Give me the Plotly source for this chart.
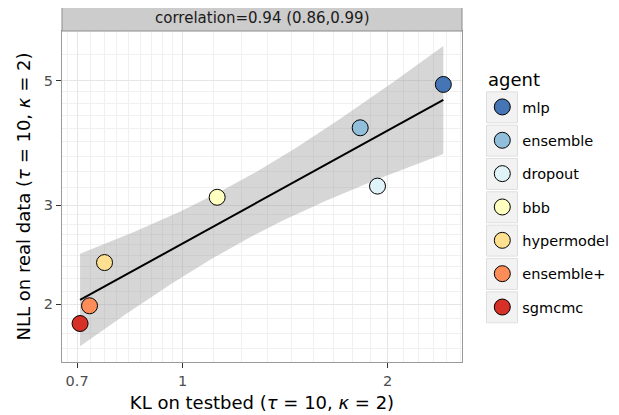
import numpy as np
import plotly.graph_objects as go

# ---------------- data ----------------
agents = ["mlp", "ensemble", "dropout", "bbb", "hypermodel", "ensemble+", "sgmcmc"]
kl_testbed = [2.415, 1.823, 1.933, 1.124, 0.768, 0.730, 0.707]
nll_real = [4.92, 4.12, 3.245, 3.10, 2.373, 1.988, 1.849]
agent_colors = ["#4575b4", "#91bfdb", "#e0f3f8", "#ffffbf", "#fee090", "#fc8d59", "#d73027"]
x_ticks = [0.7, 1, 2]
y_ticks = [2, 3, 5]
x_breaks_ext = [0.5, 0.7, 1, 2, 3]
y_breaks_ext = [1, 2, 3, 5, 10]
strip_label = "correlation=0.94 (0.86,0.99)"
legend_title = "agent"
x_title = "KL on testbed (<i>τ</i> = 10, <i>κ</i> = 2)"
y_title = "NLL on real data (<i>τ</i> = 10, <i>κ</i> = 2)"

FONT = "DejaVu Sans"
OFF = 8  # page body margin in the browser
W, H = 619 - OFF, 415 - OFF
ML, MR, MT, MB = 54, 157, 23, 53
PW, PH = W - ML - MR, H - MT - MB


def px2x(p):  # window pixel -> paper x
    return (p - OFF - ML) / PW


def py2y(p):  # window pixel -> paper y
    return (H - MB - (p - OFF)) / PH


# ---------------- linear fit in log-log space with 95% CI ----------------
lx = np.log10(np.array(kl_testbed))
ly = np.log10(np.array(nll_real))
n = len(lx)
slope, intercept = np.polyfit(lx, ly, 1)
resid = ly - (intercept + slope * lx)
s = np.sqrt(np.sum(resid ** 2) / (n - 2))
sxx = np.sum((lx - lx.mean()) ** 2)
t_crit = 2.5706  # t(0.975, df=5)
grid = np.linspace(lx.min(), lx.max(), 100)
fit = intercept + slope * grid
se = s * np.sqrt(1.0 / n + (grid - lx.mean()) ** 2 / sxx)
upper = fit + t_crit * se
lower = fit - t_crit * se


def minor_breaks(ext):
    out = []
    for a, b in zip(ext[:-1], ext[1:]):
        out.extend(np.linspace(a, b, 10)[1:-1].tolist())
    return out


fig = go.Figure()

band_x = np.concatenate([10 ** grid, (10 ** grid)[::-1]])
band_y = np.concatenate([10 ** upper, (10 ** lower)[::-1]])
fig.add_trace(go.Scatter(x=band_x, y=band_y, mode="lines", fill="toself",
                         fillcolor="rgba(153,153,153,0.4)", line=dict(width=0),
                         showlegend=False, hoverinfo="skip"))
fig.add_trace(go.Scatter(x=10 ** grid, y=10 ** fit, mode="lines",
                         line=dict(color="black", width=2), showlegend=False,
                         hoverinfo="skip"))

for a, xv, yv, c in zip(agents, kl_testbed, nll_real, agent_colors):
    fig.add_trace(go.Scatter(x=[xv], y=[yv], mode="markers", name=a, legendgroup=a,
                             marker=dict(size=16, color=c, line=dict(color="black", width=1))))

axis_common = dict(
    showline=True, mirror=True, linecolor="#9a9a9a", linewidth=1.2,
    ticks="outside", ticklen=5, tickcolor="#333333", tickwidth=1,
    showgrid=True, gridcolor="#e6e6e6", gridwidth=1.1, zeroline=False,
    tickfont=dict(family=FONT, size=14.5, color="#4d4d4d"),
)

fig.update_xaxes(type="log", range=[-0.1771, 0.4103], tickmode="array",
                 tickvals=x_ticks, ticktext=[str(v) for v in x_ticks],
                 minor=dict(tickmode="array", tickvals=minor_breaks(x_breaks_ext),
                            showgrid=True, gridcolor="#f0f0f0", gridwidth=0.8, ticks=""),
                 title=dict(text=x_title, font=dict(family=FONT, size=18, color="black"), standoff=8),
                 **axis_common)
fig.update_yaxes(type="log", range=[0.1985, 0.787], tickmode="array",
                 tickvals=y_ticks, ticktext=[str(v) for v in y_ticks],
                 minor=dict(tickmode="array", tickvals=minor_breaks(y_breaks_ext),
                            showgrid=True, gridcolor="#f0f0f0", gridwidth=0.8, ticks=""),
                 title=dict(text=y_title, font=dict(family=FONT, size=18, color="black"), standoff=8),
                 **axis_common)

shapes = [
    dict(type="rect", xref="paper", yref="paper", x0=0, x1=1, y0=1, y1=py2y(5.3),
         fillcolor="#cccccc", line=dict(color="#8c8c8c", width=1), layer="above"),
]
for k in range(len(agents)):
    cy = 107.3 + 33.33 * k
    shapes.append(dict(type="rect", xref="paper", yref="paper",
                       x0=px2x(486.5), x1=px2x(517.5), y0=py2y(cy + 15.5), y1=py2y(cy - 15.5),
                       fillcolor="#f2f2f2", line=dict(color="#dedede", width=1), layer="below"))

fig.update_layout(
    width=W, height=H,
    margin=dict(l=ML, r=MR, t=MT, b=MB, autoexpand=False),
    paper_bgcolor="white", plot_bgcolor="white",
    font=dict(family=FONT, size=14.5, color="black"),
    shapes=shapes,
    annotations=[
        dict(text=strip_label, xref="paper", yref="paper", x=0.5, y=py2y(18),
             showarrow=False, xanchor="center", yanchor="middle",
             font=dict(family=FONT, size=15, color="#1a1a1a")),
        dict(text=legend_title, xref="paper", yref="paper", x=px2x(485.5), y=py2y(79),
             showarrow=False, xanchor="left", yanchor="middle",
             font=dict(family=FONT, size=18, color="black")),
    ],
    legend=dict(font=dict(family=FONT, size=14.5, color="black"),
                x=px2x(482.3), xanchor="left", y=py2y(91), yanchor="top",
                tracegroupgap=11.5, bgcolor="rgba(0,0,0,0)", borderwidth=0),
)

fig.write_html("out.html")
